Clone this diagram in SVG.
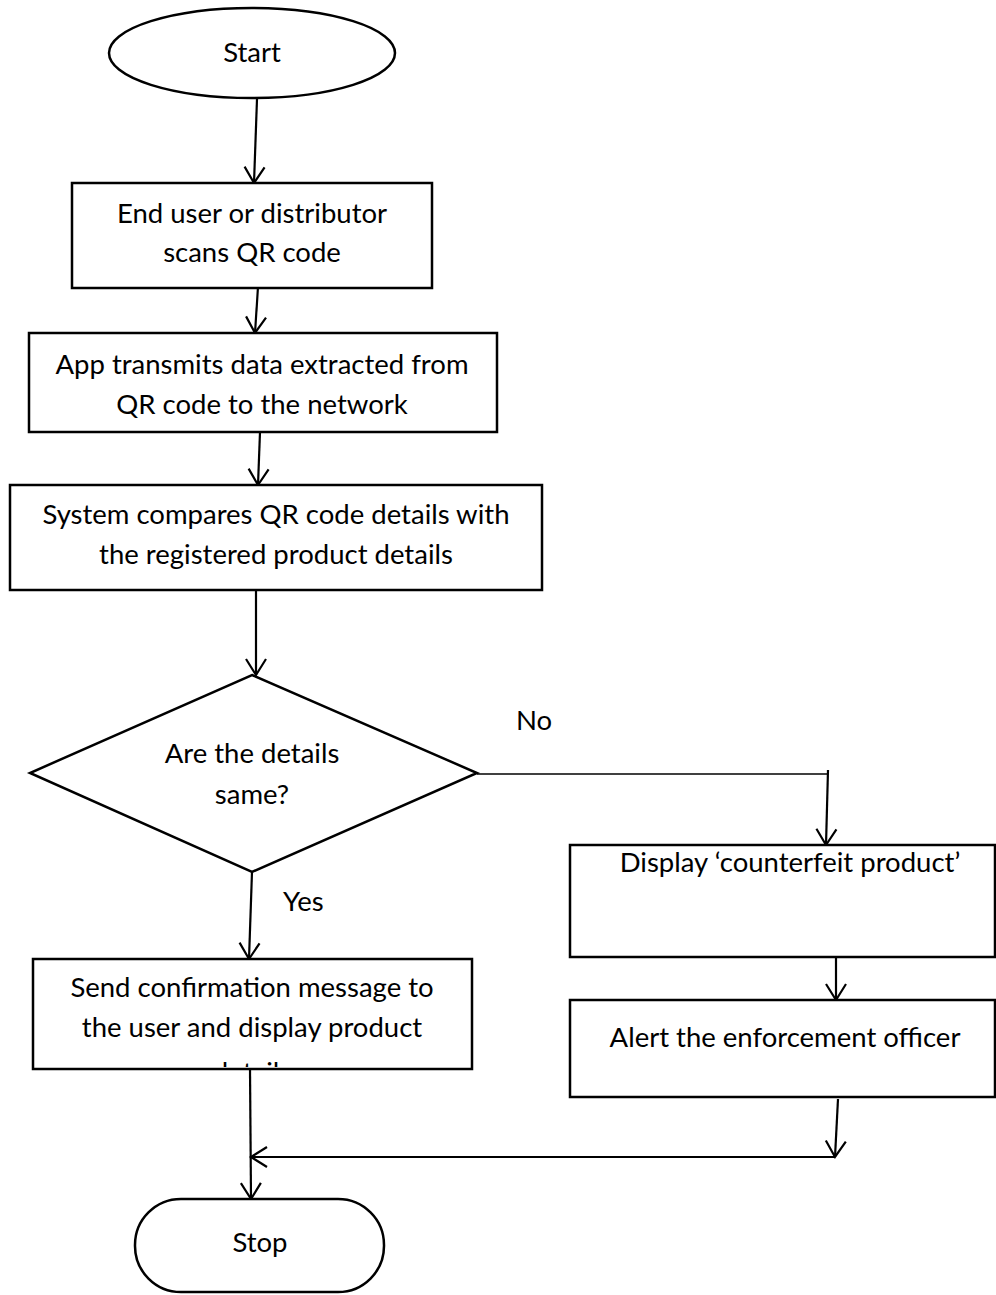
<svg xmlns="http://www.w3.org/2000/svg" width="996" height="1295" viewBox="0 0 996 1295">
  <style>
    .shape { fill: #ffffff; stroke: #000000; stroke-width: 2.5; }
    .label { font-family: Lato, "Liberation Sans", sans-serif; font-size: 27.5px; fill: #000000; }
    .mid { text-anchor: middle; }
    .conn { fill: none; stroke: #000000; stroke-width: 2.2; }
    .thin { fill: none; stroke: #000000; stroke-width: 1.4; }
  </style>
  <defs>
    <marker id="arrow" markerUnits="userSpaceOnUse" markerWidth="20" markerHeight="24" refX="0" refY="0" orient="auto" overflow="visible">
      <path d="M-16,-10 L0,0 L-16,10" fill="none" stroke="#000000" stroke-width="2.2"/>
    </marker>
    <clipPath id="sendClip">
      <rect x="34" y="960" width="437" height="107"/>
    </clipPath>
  </defs>

  <rect width="996" height="1295" fill="#ffffff"/>

  <!-- connectors -->
  <g id="connectors">
    <path class="conn" d="M257,99 L254,183" marker-end="url(#arrow)"/>
    <path class="conn" d="M258,287 L255,333" marker-end="url(#arrow)"/>
    <path class="conn" d="M260,432 L258,485" marker-end="url(#arrow)"/>
    <path class="conn" d="M256,590 L256,675" marker-end="url(#arrow)"/>
    <path class="conn" d="M252,872 L249,959" marker-end="url(#arrow)"/>
    <path class="thin" d="M477,774 L828,774"/>
    <path class="conn" d="M828,770 L826,845" marker-end="url(#arrow)"/>
    <path class="conn" d="M836,950 L836,1000" marker-end="url(#arrow)"/>
    <path class="conn" d="M838,1099 L835,1157" marker-end="url(#arrow)"/>
    <path class="conn" d="M835,1157 L251,1157" marker-end="url(#arrow)"/>
    <path class="conn" d="M250,1069 L251,1199" marker-end="url(#arrow)"/>
    <text class="label" x="516" y="730">No</text>
    <text class="label" x="283" y="911">Yes</text>
  </g>

  <g id="start">
    <ellipse class="shape" cx="252" cy="53" rx="143" ry="45"/>
    <text class="label mid" x="252" y="62">Start</text>
  </g>

  <g id="scan">
    <rect class="shape" x="72" y="183" width="360" height="105"/>
    <text class="label mid" x="252" y="223">End user or distributor</text>
    <text class="label mid" x="252" y="262">scans QR code</text>
  </g>

  <g id="transmit">
    <rect class="shape" x="29" y="333" width="468" height="99"/>
    <text class="label mid" x="262" y="374">App transmits data extracted from</text>
    <text class="label mid" x="262" y="414">QR code to the network</text>
  </g>

  <g id="compare">
    <rect class="shape" x="10" y="485" width="532" height="105"/>
    <text class="label mid" x="276" y="524">System compares QR code details with</text>
    <text class="label mid" x="276" y="564">the registered product details</text>
  </g>

  <g id="decision">
    <polygon class="shape" points="252,675 477,773 252,872 30,773"/>
    <text class="label mid" x="252" y="763">Are the details</text>
    <text class="label mid" x="252" y="804">same?</text>
  </g>

  <g id="confirm">
    <rect class="shape" x="33" y="959" width="439" height="110"/>
    <!-- third line runs past the box bottom and is cut off by it -->
    <g clip-path="url(#sendClip)">
      <text class="label mid" x="252" y="997">Send confirmation message to</text>
      <text class="label mid" x="252" y="1037">the user and display product</text>
      <text class="label mid" x="252" y="1082">details</text>
    </g>
  </g>

  <g id="counterfeit">
    <rect class="shape" x="570" y="845" width="425" height="112"/>
    <text class="label mid" x="790" y="872">Display ‘counterfeit product’</text>
  </g>

  <g id="alert">
    <rect class="shape" x="570" y="1000" width="425" height="97"/>
    <text class="label mid" x="785" y="1047">Alert the enforcement officer</text>
  </g>

  <g id="stop">
    <rect class="shape" x="135" y="1199" width="249" height="93" rx="46" ry="46"/>
    <text class="label mid" x="260" y="1252">Stop</text>
  </g>
</svg>
